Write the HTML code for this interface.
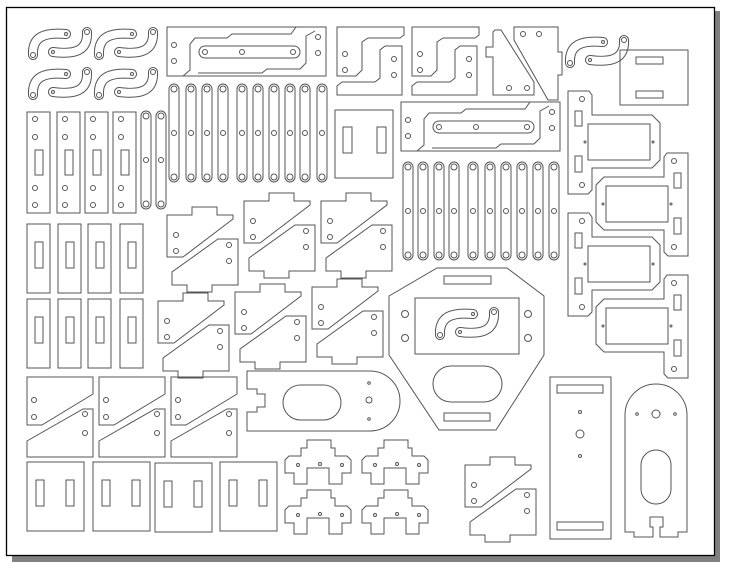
<!DOCTYPE html>
<html><head><meta charset="utf-8"><style>
html,body{margin:0;padding:0;background:#fff;width:733px;height:568px;overflow:hidden}
svg{display:block}
.p{fill:none;stroke:#555;stroke-width:1}
</style></head><body>
<svg width="733" height="568" viewBox="0 0 733 568" xmlns="http://www.w3.org/2000/svg">
<defs>
<g id="S">
 <path d="M-27,8 C-28,-10 -16,-15 6,-13" stroke="#555" stroke-width="10" fill="none" stroke-linecap="round"/>
 <path d="M-27,8 C-28,-10 -16,-15 6,-13" stroke="#fff" stroke-width="8" fill="none" stroke-linecap="round"/>
 <path d="M27,-15 C28,3 16,8 -7,5" stroke="#555" stroke-width="10" fill="none" stroke-linecap="round"/>
 <path d="M27,-15 C28,3 16,8 -7,5" stroke="#fff" stroke-width="8" fill="none" stroke-linecap="round"/>
 <g class="p"><circle cx="-27" cy="8" r="2.5"/><circle cx="6" cy="-13" r="1.5"/><circle cx="27" cy="-15" r="2.5"/><circle cx="-7" cy="5" r="1.5"/></g>
</g>
<g id="bar" class="p"><rect x="-5" y="0" width="10" height="98" rx="5"/><circle cx="0" cy="5" r="3"/><circle cx="0" cy="49" r="2.5"/><circle cx="0" cy="93" r="3"/></g>
<g id="tz" class="p">
 <polygon points="0,8 25,8 25,0 50,0 50,8 66,8 66,12 16,50 0,50"/>
 <polygon points="51,32 71,32 71,78 45,78 45,85 20,85 20,78 5,78 5,65"/>
 <circle cx="9" cy="28" r="2.5"/><circle cx="9" cy="44" r="2.5"/><circle cx="62" cy="38" r="2.5"/><circle cx="62" cy="54" r="2.5"/>
</g>
<g id="tri" class="p">
 <polygon points="0,0 66,0 66,17 15,48 0,48"/>
 <polygon points="66,32 66,80 0,80 0,64 56,32"/>
 <circle cx="7" cy="23" r="2.5"/><circle cx="7" cy="40" r="2.5"/><circle cx="58" cy="37" r="2.5"/><circle cx="58" cy="56" r="2.5"/>
</g>
<g id="sq" class="p"><rect x="0" y="0" width="57" height="69"/><rect x="9" y="18" width="8" height="26"/><rect x="39" y="18" width="8" height="26"/></g>
<g id="H" class="p">
 <polygon points="22,0 46,0 46,8 50,8 50,16 62,16 66,20 66,33 57,33 57,44 44,44 44,28 22,28 22,44 9,44 9,33 0,33 0,20 4,16 16,16 16,8 22,8"/>
 <circle cx="13" cy="25" r="1.5"/><circle cx="35" cy="24" r="1.5"/><circle cx="57" cy="25" r="1.5"/>
</g>
<g id="strip" class="p"><rect x="0" y="0" width="23" height="101"/><rect x="8" y="38" width="8" height="25"/><circle cx="8" cy="7" r="2.5"/><circle cx="8" cy="25" r="2.5"/><circle cx="8" cy="76" r="2.5"/><circle cx="8" cy="93" r="2.5"/></g>
<g id="strip2" class="p"><rect x="0" y="0" width="23" height="69"/><rect x="8" y="18" width="8" height="26"/></g>
<g id="lb" class="p">
 <polygon points="0,0 67,0 67,8 63,11 31,11 25,15 25,43 19,49 0,49"/>
 <polygon points="65,19 65,68 0,68 0,59 5,55 38,55 43,51 43,23 48,19"/>
 <circle cx="8" cy="27" r="2.5"/><circle cx="8" cy="43" r="2.5"/><circle cx="57" cy="32" r="2.5"/><circle cx="57" cy="48" r="2.5"/>
</g>
<g id="longb" class="p">
 <rect x="0" y="0" width="159" height="49"/>
 <polyline points="129,0 124,7 65,7 60,11 28,11 23,17 23,43 16,49"/>
 <polyline points="31,46 95,46 100,42 133,42 139,36 139,9 148,4"/>
 <rect x="32" y="19" width="101" height="12" rx="6"/>
 <circle cx="38" cy="25" r="2.5"/><circle cx="75" cy="25" r="2.5"/><circle cx="126" cy="25" r="2.5"/>
 <circle cx="7" cy="18" r="2.5"/><circle cx="7" cy="34" r="2.5"/><circle cx="151" cy="10" r="2.5"/><circle cx="151" cy="26" r="2.5"/>
</g>
<g id="servoL" class="p">
 <polygon points="0,0 21,0 24,4 24,24 84,24 92,32 92,69 84,77 24,77 24,99 20,103 0,103"/>
 <rect x="20" y="33" width="62" height="36"/>
 <rect x="7" y="20" width="7" height="15"/><rect x="7" y="65" width="7" height="16"/>
 <circle cx="14" cy="8" r="2.5"/><circle cx="14" cy="94" r="2.5"/><circle cx="17" cy="51" r="1"/><circle cx="85" cy="51" r="1"/>
</g>
</defs>

<rect x="714" y="11" width="6" height="551" fill="#808080"/>
<rect x="12" y="556" width="708" height="6" fill="#808080"/>
<rect x="6.5" y="7.5" width="708" height="548" fill="#fff" stroke="#000" stroke-width="1.3"/>

<use href="#S" x="60" y="47"/><use href="#S" x="126" y="47"/>
<use href="#S" x="60" y="87"/><use href="#S" x="126" y="87"/>
<use href="#S" x="597" y="55"/>

<use href="#longb" x="167" y="27"/>
<use href="#longb" x="401" y="102"/>

<use href="#lb" x="337" y="27"/>
<use href="#lb" x="412" y="27"/>

<g class="p">
 <polygon points="495,30 501,30 534,82 534,95 493,95 493,57 486,57 486,47 493,47 493,32"/>
 <polygon points="514,27 558,27 558,52 562,52 562,75 558,75 558,100 548,100 514,40"/>
 <circle cx="523" cy="34" r="2.5"/><circle cx="539" cy="34" r="2.5"/><circle cx="509" cy="88" r="2.5"/><circle cx="527" cy="88" r="2.5"/>
 <rect x="620" y="50" width="68" height="55"/><rect x="636" y="57" width="27" height="7"/><rect x="636" y="91" width="27" height="7"/>
 <rect x="335" y="110" width="58" height="68"/><rect x="343" y="127" width="9" height="26"/><rect x="377" y="127" width="9" height="26"/>
</g>

<use href="#bar" x="174" y="84"/><use href="#bar" x="191" y="84"/><use href="#bar" x="207" y="84"/><use href="#bar" x="223" y="84"/><use href="#bar" x="242" y="84"/><use href="#bar" x="258" y="84"/><use href="#bar" x="274" y="84"/><use href="#bar" x="290" y="84"/><use href="#bar" x="305" y="84"/><use href="#bar" x="322" y="84"/>
<use href="#bar" x="146" y="111"/><use href="#bar" x="161" y="111"/>
<use href="#bar" x="408" y="162"/><use href="#bar" x="423" y="162"/><use href="#bar" x="439" y="162"/><use href="#bar" x="454" y="162"/><use href="#bar" x="473" y="162"/><use href="#bar" x="490" y="162"/><use href="#bar" x="506" y="162"/><use href="#bar" x="522" y="162"/><use href="#bar" x="538" y="162"/><use href="#bar" x="554" y="162"/>

<use href="#strip" x="27" y="112"/><use href="#strip" x="57" y="112"/><use href="#strip" x="85" y="112"/><use href="#strip" x="113" y="112"/>
<use href="#strip2" x="27" y="224"/><use href="#strip2" x="58" y="224"/><use href="#strip2" x="88" y="224"/><use href="#strip2" x="120" y="224"/>
<use href="#strip2" x="27" y="299"/><use href="#strip2" x="58" y="299"/><use href="#strip2" x="88" y="299"/><use href="#strip2" x="120" y="299"/>

<use href="#tz" x="167" y="207"/><use href="#tz" x="244" y="193"/><use href="#tz" x="321" y="193"/>
<use href="#tz" x="158" y="293"/><use href="#tz" x="235" y="284"/><use href="#tz" x="312" y="279"/>
<use href="#tz" x="465" y="457"/>

<use href="#tri" x="27" y="377"/><use href="#tri" x="99" y="377"/><use href="#tri" x="171" y="377"/>

<use href="#sq" x="27" y="462"/><use href="#sq" x="93" y="462"/><use href="#sq" x="155" y="463"/><use href="#sq" x="220" y="462"/>

<use href="#H" x="285" y="440"/><use href="#H" x="362" y="440"/><use href="#H" x="285" y="490"/><use href="#H" x="362" y="490"/>

<use href="#servoL" x="568" y="91"/>
<use href="#servoL" x="568" y="213"/>
<g transform="translate(688,153) scale(-1,1)"><use href="#servoL"/></g>
<g transform="translate(688,275) scale(-1,1)"><use href="#servoL"/></g>

<g class="p">
 <path d="M247,371 L370,371 A30,30 0 0 1 370,431 L247,431 L247,412 L257,412 L257,407 L265,407 L265,394 L257,394 L257,389 L247,389 Z"/>
 <rect x="283" y="385" width="58" height="35" rx="17.5"/>
 <circle cx="369" cy="383" r="1.3"/><circle cx="369" cy="400" r="3"/><circle cx="369" cy="419" r="1.3"/>
</g>

<g class="p">
 <polygon points="437,268 507,268 544,296 544,355 496,430 439,430 389,355 389,296"/>
 <rect x="444" y="276" width="47" height="8"/>
 <rect x="415" y="298" width="104" height="56"/>
 <circle cx="405" cy="314" r="3.5"/><circle cx="405" cy="338" r="3.5"/><circle cx="528" cy="314" r="3.5"/><circle cx="528" cy="338" r="3.5"/>
 <rect x="433" y="366" width="69" height="36" rx="18"/>
 <rect x="444" y="413" width="46" height="8"/>
</g>
<use href="#S" x="467" y="327"/>

<g class="p">
 <rect x="550" y="377" width="61" height="162"/>
 <rect x="557" y="385" width="46" height="8"/><rect x="557" y="522" width="46" height="8"/>
 <circle cx="580" cy="412" r="1.5"/><circle cx="580" cy="434" r="4"/><circle cx="580" cy="456" r="1.5"/>
</g>

<g class="p">
 <path d="M625,415 A31,31 0 0 1 687,415 L687,532 L678,532 L678,537 L660,537 L660,527 L663,527 L663,517 L650,517 L650,527 L653,527 L653,537 L634,537 L634,532 L625,532 Z"/>
 <rect x="641" y="450" width="30" height="54" rx="15"/>
 <circle cx="637" cy="414" r="1.3"/><circle cx="656" cy="414" r="4"/><circle cx="675" cy="414" r="1.3"/>
</g>
</svg>
</body></html>
